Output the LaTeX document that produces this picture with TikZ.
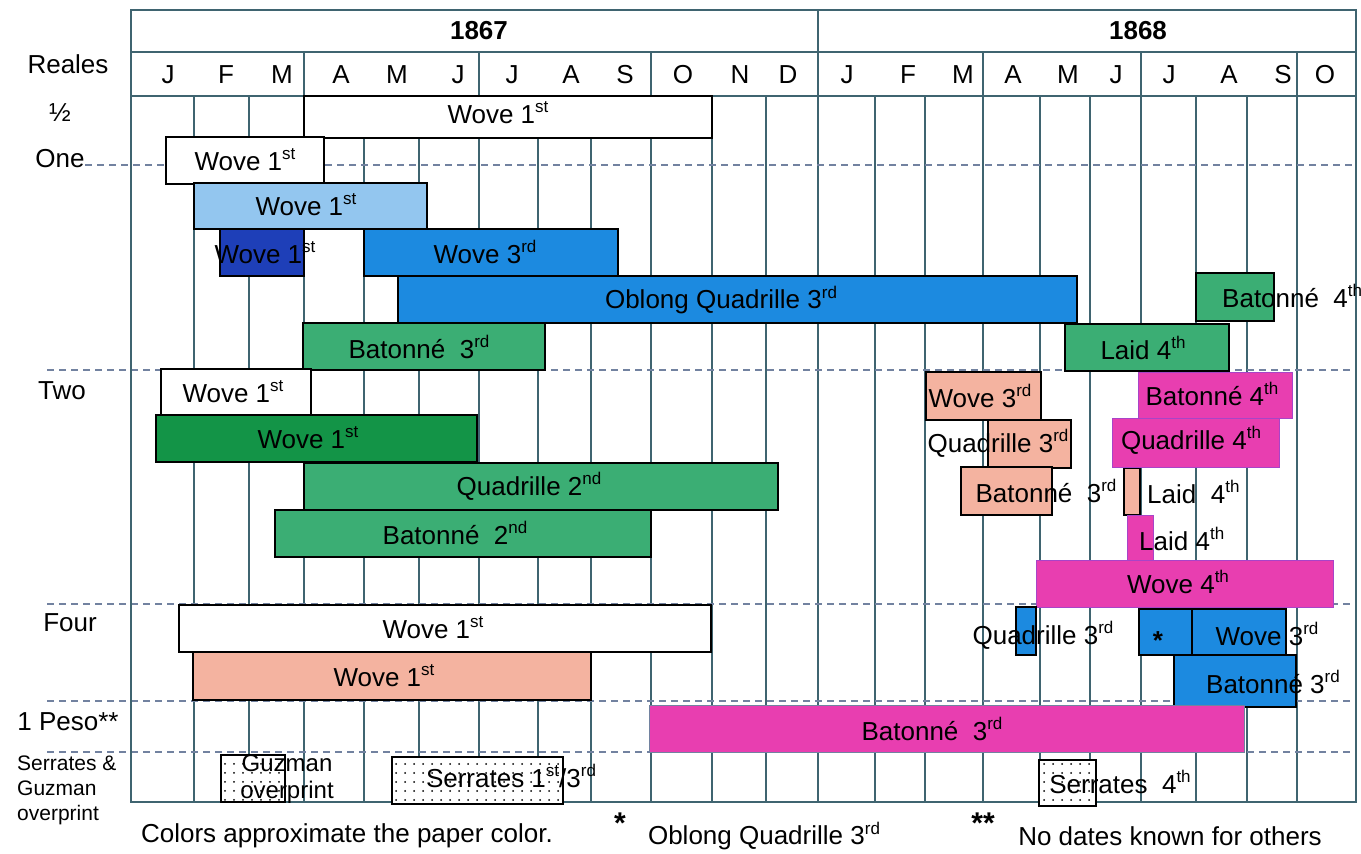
\documentclass[tikz,border=0pt]{standalone}
\usepackage{fontspec}
\setmainfont{Liberation Sans}
\usetikzlibrary{patterns.meta}
\definecolor{gridc}{HTML}{3F6470}
\definecolor{dashc}{HTML}{7282A0}
\definecolor{lblue}{HTML}{93C6EF}
\definecolor{dblue}{HTML}{1E3FB8}
\definecolor{mblue}{HTML}{1C8AE0}
\definecolor{dgreen}{HTML}{139447}
\definecolor{mgreen}{HTML}{3BAE74}
\definecolor{salmon}{HTML}{F4B3A0}
\definecolor{magen}{HTML}{E83EB0}
\definecolor{magedge}{HTML}{A844C8}
\newcommand\spr[1]{\raisebox{0.42em}{\fontsize{17}{17}\selectfont #1}}
\begin{document}
\begin{tikzpicture}[x=1pt,y=-1pt,
  lbl/.style={font=\fontsize{26}{28}\selectfont, inner sep=0pt},
  sml/.style={font=\fontsize{21}{25}\selectfont, inner sep=0pt, align=left},
  yr/.style={font=\bfseries\fontsize{26}{28}\selectfont, inner sep=0pt},
  bar/.style={draw=black, line width=1.4pt},
  mbar/.style={draw=magedge, line width=1pt, fill=magen},
  dotbar/.style={draw=black, line width=1.2pt, preaction={fill=white}, pattern={Dots[distance=9pt,radius=1pt]}},
  vline/.style={draw=gridc, line width=1.3pt},
  frame/.style={draw=gridc, line width=2pt},
  dline/.style={draw=dashc, line width=1.3pt, dash pattern=on 7pt off 5pt}]
\useasboundingbox (0,0) rectangle (1361,854);
\fill[white] (0,0) rectangle (1361,854);
% body vertical lines
\foreach \x in {194,249,304,364,419,479,538,591,651,712,766,818,875,925,983,1040,1090,1141,1196,1247,1297}
  \draw[vline] (\x,96) -- (\x,802);
% dashed row separators
\draw[dline] (85,165) -- (1356,165);
\draw[dline] (47,370) -- (1356,370);
\draw[dline] (47,604) -- (1356,604);
\draw[dline] (47,701) -- (1356,701);
\draw[dline] (47,752) -- (1356,752);
% header
\draw[frame] (131,802) -- (131,10) -- (1356,10) -- (1356,802) -- cycle;
\draw[frame] (131,52) -- (1356,52);
\draw[frame, line width=2.6pt] (131,96) -- (1356,96);
\draw[frame] (818,10) -- (818,96);
\foreach \x in {304,479,651,983,1141,1297}
  \draw[vline] (\x,52) -- (\x,96);
\node[yr] (y67) at (479,31) {1867};
\node[yr] (y68) at (1138,31) {1868};
\foreach \m/\x [count=\i] in {J/168,F/226,M/282,A/341,M/397,J/458,J/512,A/571,S/625,O/683,N/740,D/788,J/847,F/908,M/963,A/1013,M/1068,J/1116,J/1169,A/1229,S/1283,O/1325}
  \node[lbl] (m\i) at (\x,75) {\m};
% left labels
\node[lbl] (reales) at (68,64) {Reales};
\node[lbl] (half) at (60,113) {½};
\node[lbl] (one) at (60,159) {One};
\node[lbl] (two) at (62,391) {Two};
\node[lbl] (four) at (70,623) {Four};
\node[lbl] (peso) at (68,722) {1 Peso**};
\node[sml, anchor=west] (serg) at (17,790) {Serrates \&\\Guzman\\overprint};
% bars: half
\path[bar, fill=white] (304,96) rectangle (712,138);
\node[lbl] (b1) at (498,113) {Wove 1\spr{st}};
% One
\path[bar, fill=white] (166,137) rectangle (324,184);
\node[lbl] (b2) at (245,160) {Wove 1\spr{st}};
\path[bar, fill=lblue] (194,183) rectangle (427,229);
\node[lbl] (b3) at (306,205) {Wove 1\spr{st}};
\path[bar, fill=dblue] (220,229) rectangle (304,276);
\node[lbl] (b4) at (265,253) {Wove 1\spr{st}};
\path[bar, fill=mblue] (364,229) rectangle (618,276);
\node[lbl] (b5) at (485,252) {Wove 3\spr{rd}};
\path[bar, fill=mblue] (398,276) rectangle (1077,323);
\node[lbl] (b6) at (721,300) {Oblong Quadrille 3\spr{rd}};
\path[bar, fill=mgreen] (1196,273) rectangle (1274,321);
\node[lbl, anchor=west] (b7) at (1222,296) {Batonné\ \ 4\spr{th}};
\path[bar, fill=mgreen] (303,323) rectangle (545,370);
\node[lbl] (b8) at (419,347) {Batonné\ \ 3\spr{rd}};
\path[bar, fill=mgreen] (1065,324) rectangle (1229,371);
\node[lbl] (b9) at (1143,348) {Laid 4\spr{th}};
% Two
\path[bar, fill=white] (161,369) rectangle (311,415);
\node[lbl] (b10) at (233,392) {Wove 1\spr{st}};
\path[bar, fill=dgreen] (156,415) rectangle (477,462);
\node[lbl] (b11) at (308,438) {Wove 1\spr{st}};
\path[bar, fill=mgreen] (304,463) rectangle (778,510);
\node[lbl] (b12) at (529,486) {Quadrille 2\spr{nd}};
\path[bar, fill=mgreen] (275,510) rectangle (651,557);
\node[lbl] (b13) at (455,533) {Batonné\ \ 2\spr{nd}};
\path[bar, fill=salmon] (926,372) rectangle (1041,420);
\node[lbl] (b14) at (980,396) {Wove 3\spr{rd}};
\path[bar, fill=salmon] (988,420) rectangle (1071,468);
\node[lbl] (b15) at (998,443) {Quadrille 3\spr{rd}};
\path[bar, fill=salmon] (961,467) rectangle (1052,515);
\node[lbl] (b16) at (1046,491) {Batonné\ \ 3\spr{rd}};
\path[bar, fill=salmon] (1124,468) rectangle (1140,515);
\node[lbl, anchor=west] (b17) at (1147,492) {Laid\ \ 4\spr{th}};
\path[mbar] (1138,372) rectangle (1292,418);
\node[lbl] (b18) at (1212,394) {Batonné 4\spr{th}};
\path[mbar] (1112,418) rectangle (1279,467);
\node[lbl] (b19) at (1191,440) {Quadrille 4\spr{th}};
\path[mbar] (1127,515) rectangle (1153,560);
\node[lbl, anchor=west] (b20) at (1139,539) {Laid 4\spr{th}};
\path[mbar] (1036,560) rectangle (1333,607);
\node[lbl] (b21) at (1178,582) {Wove 4\spr{th}};
% Four
\path[bar, fill=white] (179,605) rectangle (711,652);
\node[lbl] (b22) at (433,628) {Wove 1\spr{st}};
\path[bar, fill=salmon] (193,652) rectangle (591,700);
\node[lbl] (b23) at (384,676) {Wove 1\spr{st}};
\path[bar, fill=mblue] (1016,607) rectangle (1036,655);
\node[lbl] (b24) at (1043,635) {Quadrille 3\spr{rd}};
\path[bar, fill=mblue] (1139,609) rectangle (1192,655);
\node[lbl, font=\bfseries\fontsize{26}{28}\selectfont] (b25) at (1158,641) {*};
\path[bar, fill=mblue] (1192,609) rectangle (1286,655);
\node[lbl] (b26) at (1267,634) {Wove 3\spr{rd}};
\path[bar, fill=mblue] (1174,655) rectangle (1296,707);
\node[lbl] (b27) at (1273,682) {Batonné 3\spr{rd}};
% 1 Peso
\path[mbar, draw=dashc] (649,705) rectangle (1244,752);
\node[lbl] (b28) at (932,729) {Batonné\ \ 3\spr{rd}};
% Serrates & Guzman
\path[dotbar] (221,755) rectangle (285,802);
\node[lbl, align=center, font=\fontsize{24}{27}\selectfont] (b29) at (287,779) {Guzman\\overprint};
\path[dotbar] (392,757) rectangle (563,804);
\node[lbl] (b30) at (511,776) {Serrates 1\spr{st}/3\spr{rd}};
\path[dotbar] (1039,760) rectangle (1096,806);
\node[lbl] (b31) at (1120,782) {Serrates\ \ 4\spr{th}};
% footnotes
\node[lbl] (n1) at (347,836) {Colors approximate the paper color.};
\node[lbl, font=\bfseries\fontsize{30}{30}\selectfont] (n2) at (620,823) {*};
\node[lbl] (n3) at (764,836) {Oblong Quadrille 3\spr{rd}};
\node[lbl, font=\bfseries\fontsize{30}{30}\selectfont] (n4) at (983,823) {**};
\node[lbl] (n5) at (1170,836) {No dates known for others};
\end{tikzpicture}
\end{document}
